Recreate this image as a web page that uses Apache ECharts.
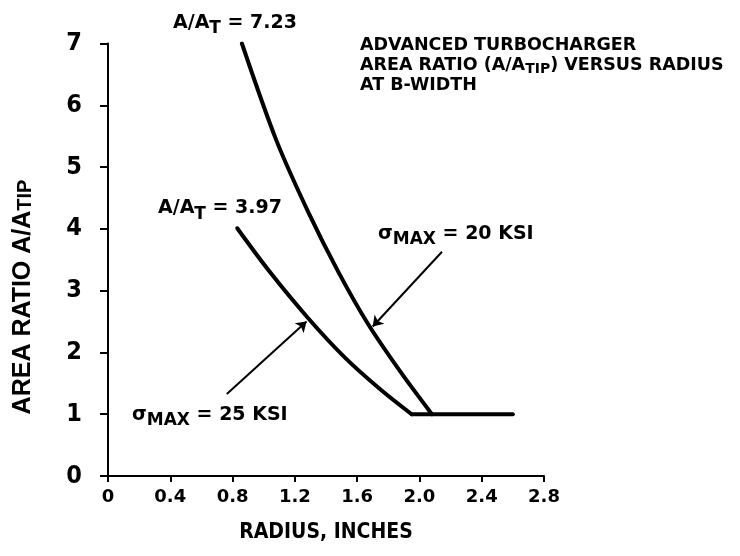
<!DOCTYPE html>
<html><head><meta charset="utf-8">
<script src="https://cdn.jsdelivr.net/npm/echarts@6/dist/echarts.min.js"></script>
<style>html,body{margin:0;padding:0;background:#fff}#c{width:740px;height:556px}</style>
</head><body><div id="c"></div>
<script>
// ---- data ----
const xTickValues = [0, 0.4, 0.8, 1.2, 1.6, 2.0, 2.4, 2.8];
const yTickValues = [0, 1, 2, 3, 4, 5, 6, 7];
// sigma max = 20 KSI curve (A/A_T = 7.23)
const radius20 = [0.86, 1.08, 1.29, 1.48, 1.67, 1.88, 2.08];
const ratio20  = [7.00, 5.44, 4.25, 3.30, 2.46, 1.68, 1.00];
// sigma max = 25 KSI curve (A/A_T = 3.97)
const radius25 = [0.83, 1.04, 1.28, 1.52, 1.75, 1.95];
const ratio25  = [4.01, 3.30, 2.57, 1.92, 1.40, 1.00];
// common flat part A/A_TIP = 1
const radiusFlat = [1.95, 2.60];
const ratioFlat  = [1.00, 1.00];

const BOLD = 'DejaVu Sans';
const NARROW = "'Liberation Sans Narrow', 'DejaVu Sans Condensed', sans-serif";

const chart = echarts.init(document.getElementById('c'), null, {renderer: 'canvas'});

function pairs(xs, ys) { return xs.map((x, i) => [x, ys[i]]); }

const arrowStyle = {
  silent: true,
  symbol: ['none', 'arrow'],
  symbolSize: 10,
  label: {show: false},
  lineStyle: {color: '#000', width: 2, type: 'solid'},
  emphasis: {disabled: true}
};

function subText(x, y, parts, mainSize, subSize, shift, family) {
  const txt = parts.map(p => '{' + (p[1] ? 's' : 'm') + '|' + p[0] + '}').join('');
  return {
    type: 'text', x: x, y: y, silent: true,
    style: {
      text: txt, fill: '#000', align: 'left', verticalAlign: 'top',
      rich: {
        m: {fontFamily: family || BOLD, fontWeight: 'bold', fontSize: mainSize, verticalAlign: 'top', fill: '#000'},
        s: {fontFamily: family || BOLD, fontWeight: 'bold', fontSize: subSize, verticalAlign: 'top', padding: [shift, 0, 0, 0], fill: '#000'}
      }
    }
  };
}

const lineStyle = {color: '#000', width: 4, cap: 'round', join: 'round'};

const option = {
  backgroundColor: '#fff',
  animation: false,
  grid: {left: 108, right: 196, top: 43.5, bottom: 80, containLabel: false, outerBoundsMode: 'none'},
  xAxis: {
    type: 'value', min: 0, max: 2.8, interval: 0.4,
    axisLine: {show: true, onZero: false, lineStyle: {color: '#000', width: 2}},
    axisTick: {show: true, length: 6, lineStyle: {color: '#000', width: 2}},
    splitLine: {show: false},
    axisLabel: {
      color: '#000', fontFamily: BOLD, fontWeight: 'bold', fontSize: 18, margin: 12,
      formatter: v => (Math.abs(v) < 1e-9 ? '0' : v.toFixed(1))
    },
    name: 'RADIUS, INCHES', nameLocation: 'middle', nameGap: 46,
    nameTextStyle: {color: '#000', fontFamily: NARROW, fontWeight: 'bold', fontSize: 21}
  },
  yAxis: {
    type: 'value', min: 0, max: 7, interval: 1,
    axisLine: {show: true, onZero: false, lineStyle: {color: '#000', width: 2}},
    axisTick: {show: true, length: 8, lineStyle: {color: '#000', width: 2}},
    splitLine: {show: false},
    axisLabel: {color: '#000', fontFamily: NARROW, fontWeight: 'bold', fontSize: 25, margin: 26}
  },
  series: [
    {
      name: 'σMAX = 20 KSI', type: 'line', data: pairs(radius20, ratio20),
      showSymbol: false, smooth: 0.3, silent: true, lineStyle: lineStyle,
      markLine: Object.assign({data: [[{coord: [2.145, 3.63]}, {coord: [1.70, 2.42]}]]}, arrowStyle)
    },
    {
      name: 'σMAX = 25 KSI', type: 'line', data: pairs(radius25, ratio25),
      showSymbol: false, smooth: 0.3, silent: true, lineStyle: lineStyle,
      markLine: Object.assign({data: [[{coord: [0.763, 1.327]}, {coord: [1.275, 2.50]}]]}, arrowStyle)
    },
    {
      name: 'A/ATIP = 1', type: 'line', data: pairs(radiusFlat, ratioFlat),
      showSymbol: false, silent: true, lineStyle: lineStyle
    }
  ],
  graphic: [
    subText(360, 36.5, [['ADVANCED TURBOCHARGER', 0]], 17.5, 14, 6),
    subText(360, 56.5, [['AREA RATIO (A/A', 0], ['TIP', 1], [') VERSUS RADIUS', 0]], 17.5, 14, 6),
    subText(360, 76.5, [['AT B-WIDTH', 0]], 17.5, 14, 6),
    subText(173, 13.5, [['A/A', 0], ['T', 1], [' = 7.23', 0]], 19, 17, 7),
    subText(158, 199, [['A/A', 0], ['T', 1], [' = 3.97', 0]], 19, 17, 7),
    subText(378, 224.5, [['σ', 0], ['MAX', 1], [' = 20 KSI', 0]], 19, 17, 7),
    subText(132, 405.5, [['σ', 0], ['MAX', 1], [' = 25 KSI', 0]], 19, 17, 7),
    {
      type: 'text', x: 23, y: 297, rotation: Math.PI / 2, silent: true,
      style: {
        text: '{m|AREA RATIO A/A}{s|TIP}', align: 'center', verticalAlign: 'middle', fill: '#000',
        rich: {
          m: {fontFamily: 'Liberation Sans', fontWeight: 'bold', fontSize: 25, verticalAlign: 'top'},
          s: {fontFamily: 'Liberation Sans', fontWeight: 'bold', fontSize: 20, verticalAlign: 'top', padding: [5, 0, 0, 0]}
        }
      }
    }
  ]
};
chart.setOption(option);
</script>
</body></html>
